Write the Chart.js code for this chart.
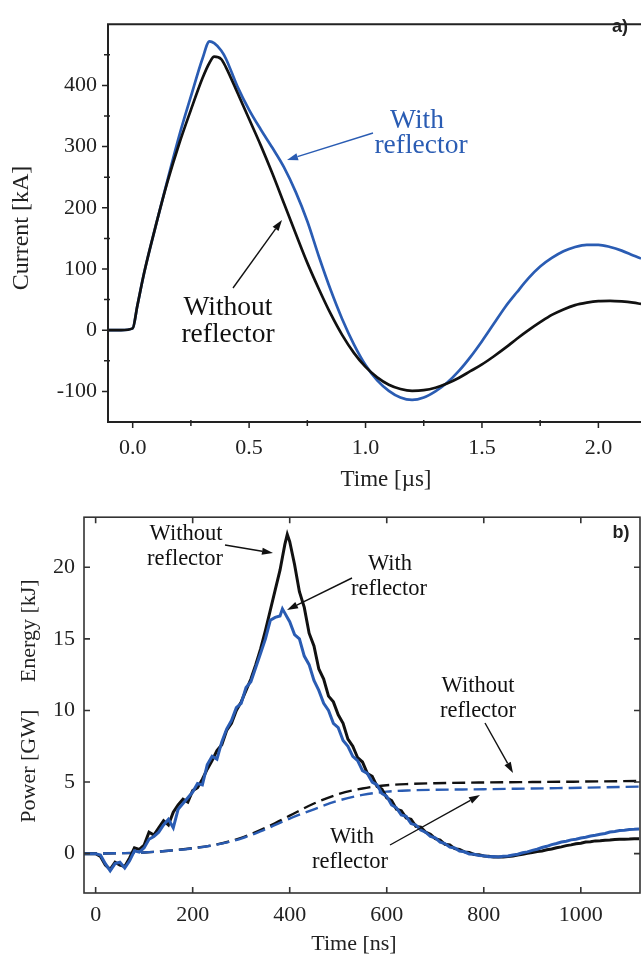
<!DOCTYPE html>
<html><head><meta charset="utf-8">
<script src="https://cdn.jsdelivr.net/npm/chart.js@4.4.1/dist/chart.umd.min.js"></script>
<style>
html,body{margin:0;padding:0;background:#fff;overflow:hidden;}
#wrap{position:relative;width:641px;height:959px;}
canvas{position:absolute;left:0;display:block;}
#ca{top:0}
#cb{top:495px}
</style></head><body>
<div id="wrap"><canvas id="ca" width="641" height="495"></canvas><canvas id="cb" width="641" height="464"></canvas></div>
<script>
// ---------- Panel a) data ----------
const currentTime = [-0.106,-0.05,0,0.02,0.05,0.1,0.15,0.2,0.25,0.3,0.33,0.35,0.38,0.4,0.45,0.5,0.55,0.6,0.65,0.7,0.75,0.8,0.85,0.9,0.95,1.0,1.05,1.1,1.15,1.2,1.25,1.3,1.35,1.4,1.45,1.5,1.55,1.6,1.65,1.7,1.75,1.8,1.85,1.9,1.95,2.0,2.05,2.1,2.15,2.183];
const currentWithout = [0,0,3,40,95,172,243,305,360,412,437,447,443,430,388,345,302,256,207,158,110,67,27,-8,-37,-60,-77,-89,-96,-99,-98,-94,-87,-78,-67,-56,-43,-29,-14,0,13,25,34,41,45,47.5,48,47,45,43];
const currentWith = [0,0,3,40,95,172,246,318,382,444,472,469,457,444,398,360,328,298,266,226,178,120,66,18,-23,-57,-82,-99,-110,-114,-110,-100,-86,-67,-44,-18,10,38,62,85,104,118,129,136,139.5,139.5,136,130,122,117];
const currentTicksX = [0, 0.5, 1.0, 1.5, 2.0];
const currentMinorX = [0.25, 0.75, 1.25, 1.75];
const currentTicksY = [-100, 0, 100, 200, 300, 400];
const currentMinorY = [-50, 50, 150, 250, 350, 450];

// ---------- Panel b) data ----------
const powerTime = [-24,0,10,20,30,40,50,60,70,80,90,100,110,120,130,140,150,160,170,180,190,200,210,220,230,240,250,260,270,280,290,300,310,320,330,340,350,360,370,380,385,390,395,400,410,420,430,440,450,460,470,480,490,500,510,520,530,540,550,560,570,580,590,600,610,620,630,640,650,660,670,680,690,700,710,720,730,740,750,760,770,780,790,800,810,820,830,840,850,860,870,880,890,900,910,920,930,940,950,960,970,980,990,1000,1010,1020,1030,1040,1050,1060,1070,1080,1090,1100,1110,1120];
const powerWithout = [0,0,
 -0.2,-0.8,-1.1,-0.6,-0.8,-0.9,-0.3,0.4,0.3,0.6,
 1.5,1.3,1.8,2.3,2.0,2.9,3.4,3.8,3.6,4.4,
 4.6,5.2,5.9,6.5,7.2,7.6,8.6,9.1,10.0,10.6,
 11.4,12.2,13.2,14.3,15.6,17.0,18.4,19.8,
 20.7,21.6,22.3,
 21.8,20.2,18.3,17.2,15.4,14.5,12.9,12.2,11.0,10.6,
 9.7,9.1,8.0,7.5,6.7,6.4,5.6,5.4,4.7,4.5,
 3.9,3.7,3.1,3.0,2.5,2.4,1.9,1.85,1.5,1.35,
 1.05,0.95,0.65,0.6,0.35,0.3,0.12,0.08,-0.06,-0.08,
 -0.17,-0.19,-0.23,-0.23,-0.24,-0.2,-0.16,-0.09,-0.05,0.03,
 0.07,0.15,0.19,0.27,0.32,0.41,0.47,0.56,0.61,0.69,
 0.73,0.81,0.83,0.89,0.9,0.94,0.95,0.99,1.0,1.01,
 1.02,1.04,1.04];
const powerWith = [0,0,
 -0.1,-0.7,-1.2,-0.7,-0.6,-1.0,-0.5,0.2,0.1,0.4,
 1.0,1.2,1.5,2.0,2.4,1.8,3.1,3.5,3.9,4.3,
 4.9,4.8,6.2,6.8,6.6,7.8,8.7,9.3,10.2,10.5,
 11.6,12.0,13.0,14.0,15.0,16.3,16.5,16.6,
 17.1,16.8,16.5,
 16.2,15.3,15.0,13.8,13.2,12.1,11.4,10.5,10.0,9.1,
 8.8,7.9,7.5,6.8,6.5,5.8,5.6,5.0,4.8,4.2,
 4.0,3.4,3.2,2.7,2.6,2.1,2.0,1.65,1.5,1.2,
 1.1,0.8,0.7,0.45,0.4,0.18,0.13,-0.02,-0.04,-0.13,
 -0.15,-0.21,-0.2,-0.23,-0.19,-0.17,-0.09,-0.04,0.06,0.12,
 0.23,0.31,0.43,0.51,0.63,0.71,0.81,0.87,0.96,1.01,
 1.09,1.14,1.23,1.29,1.36,1.41,1.51,1.54,1.61,1.63,
 1.69,1.7,1.72];
const energyTime = [-24,0,50,100,150,200,250,300,350,400,450,500,550,600,650,700,800,900,1000,1122];
const energyWithout = [0,0,0.03,0.08,0.2,0.38,0.65,1.1,1.8,2.65,3.5,4.15,4.55,4.78,4.87,4.92,4.97,5.0,5.03,5.08];
const energyWith = [0,0,0.03,0.08,0.2,0.37,0.63,1.05,1.7,2.45,3.1,3.7,4.1,4.33,4.42,4.46,4.5,4.55,4.6,4.68];
const powerTicksX = [0, 200, 400, 600, 800, 1000];
const powerTicksY = [0, 5, 10, 15, 20];

// ---------- styling ----------
const SERIF = "'Liberation Serif','Times New Roman',serif";
const BLUE = '#2a5cb3';
const BLACK = '#111111';
Chart.defaults.font.family = SERIF;
Chart.defaults.color = '#222';

function xy(xs, ys){ return xs.map((x,i)=>({x:x, y:ys[i]})); }

function drawArrow(ctx, x1, y1, x2, y2, color){
  ctx.save();
  ctx.strokeStyle = color; ctx.fillStyle = color; ctx.lineWidth = 1.4;
  const a = Math.atan2(y2-y1, x2-x1), L = 11, W = 3.6;
  const bx = x2 - L*Math.cos(a), by = y2 - L*Math.sin(a);
  ctx.beginPath(); ctx.moveTo(x1,y1); ctx.lineTo(bx,by); ctx.stroke();
  ctx.beginPath(); ctx.moveTo(x2,y2);
  ctx.lineTo(bx + W*Math.sin(a), by - W*Math.cos(a));
  ctx.lineTo(bx - W*Math.sin(a), by + W*Math.cos(a));
  ctx.closePath(); ctx.fill();
  ctx.restore();
}
function label(ctx, lines, cx, baselines, size, color){
  ctx.save();
  ctx.font = size + 'px ' + SERIF; ctx.fillStyle = color;
  ctx.textAlign = 'center'; ctx.textBaseline = 'alphabetic';
  lines.forEach((t,i)=>ctx.fillText(t, cx[i], baselines[i]));
  ctx.restore();
}

// ---------- Panel a) ----------
const frameA = {
  id: 'frameA',
  afterDraw(chart){
    const {ctx, chartArea: ca, scales: {x, y}} = chart;
    ctx.save();
    ctx.strokeStyle = '#222'; ctx.lineWidth = 2;
    ctx.beginPath();
    ctx.moveTo(ca.right+2, ca.top); ctx.lineTo(ca.left, ca.top); ctx.lineTo(ca.left, ca.bottom); ctx.lineTo(ca.right+2, ca.bottom);
    ctx.stroke();
    ctx.lineWidth = 1.5;
    ctx.beginPath();
    currentTicksY.forEach(v=>{const p=y.getPixelForValue(v); ctx.moveTo(ca.left-6,p); ctx.lineTo(ca.left,p);});
    currentMinorY.forEach(v=>{const p=y.getPixelForValue(v); ctx.moveTo(ca.left-4,p); ctx.lineTo(ca.left+2,p);});
    currentTicksX.forEach(v=>{const p=x.getPixelForValue(v); ctx.moveTo(p,ca.bottom); ctx.lineTo(p,ca.bottom+6);});
    currentMinorX.forEach(v=>{const p=x.getPixelForValue(v); ctx.moveTo(p,ca.bottom-2); ctx.lineTo(p,ca.bottom+4);});
    ctx.stroke();
    // axis titles
    ctx.fillStyle = '#222';
    ctx.font = '23px ' + SERIF; ctx.textAlign = 'center'; ctx.textBaseline = 'alphabetic';
    ctx.fillText('Time [\u00b5s]', 386, 486);
    ctx.save(); ctx.translate(28, 228); ctx.rotate(-Math.PI/2);
    ctx.font = '24px ' + SERIF; ctx.textBaseline = 'alphabetic';
    ctx.fillText('Current [kA]', 0, 0); ctx.restore();
    // panel tag
    ctx.font = 'bold 18px "Liberation Sans", Arial, sans-serif';
    ctx.textAlign = 'center'; ctx.textBaseline = 'middle';
    ctx.fillText('a)', 620, 27);
    ctx.restore();
    // annotations
    label(ctx, ['With','reflector'], [417, 421], [128, 153], 27.5, BLUE);
    drawArrow(ctx, 373, 133, 287, 160, BLUE);
    label(ctx, ['Without','reflector'], [228, 228], [315, 342], 27.5, BLACK);
    drawArrow(ctx, 233, 288, 282, 220, BLACK);
  }
};

new Chart(document.getElementById('ca'), {
  type: 'line',
  data: { datasets: [
    { label: 'Without reflector', data: xy(currentTime, currentWithout), borderColor: BLACK, borderWidth: 2.7, pointRadius: 0, cubicInterpolationMode: 'monotone', order: 0 },
    { label: 'With reflector', data: xy(currentTime, currentWith), borderColor: BLUE, borderWidth: 2.7, pointRadius: 0, cubicInterpolationMode: 'monotone', order: 1 }
  ]},
  options: {
    responsive: false, animation: false, devicePixelRatio: 1,
    layout: { padding: { top: 8, right: 0, left: 0, bottom: 0 } },
    plugins: { legend: { display: false }, tooltip: { enabled: false } },
    scales: {
      x: { type: 'linear', min: -0.106, max: 2.183,
           afterBuildTicks: s => { s.ticks = currentTicksX.map(v=>({value:v})); },
           afterFit: s => { s.height = 73; },
           ticks: { callback: v => Number(v).toFixed(1), padding: 13, font: { size: 22 }, maxRotation: 0, autoSkip: false, color: '#222' },
           grid: { display: false, drawTicks: false }, border: { display: false } },
      y: { type: 'linear', min: -150, max: 500,
           afterBuildTicks: s => { s.ticks = currentTicksY.map(v=>({value:v})); },
           afterFit: s => { s.width = 108; },
           ticks: { callback: v => String(v), padding: 11, font: { size: 22 }, color: '#222' },
           grid: { display: false, drawTicks: false }, border: { display: false } }
    }
  },
  plugins: [frameA]
});

// ---------- Panel b) ----------
const OFF = 495;
const frameB = {
  id: 'frameB',
  afterDraw(chart){
    const {ctx, chartArea: ca, scales: {x, y}} = chart;
    ctx.save();
    ctx.strokeStyle = '#333'; ctx.lineWidth = 1.6;
    ctx.strokeRect(ca.left, ca.top, ca.right-ca.left, ca.bottom-ca.top);
    ctx.beginPath();
    powerTicksX.forEach(v=>{const p=x.getPixelForValue(v);
      ctx.moveTo(p,ca.bottom); ctx.lineTo(p,ca.bottom-6);
      ctx.moveTo(p,ca.top); ctx.lineTo(p,ca.top+6);});
    powerTicksY.forEach(v=>{const p=y.getPixelForValue(v);
      ctx.moveTo(ca.left,p); ctx.lineTo(ca.left+6,p);
      ctx.moveTo(ca.right,p); ctx.lineTo(ca.right-6,p);});
    ctx.stroke();
    ctx.fillStyle = '#222';
    ctx.font = '22px ' + SERIF; ctx.textAlign = 'center'; ctx.textBaseline = 'alphabetic';
    ctx.fillText('Time [ns]', 354, 950 - OFF);
    ctx.save(); ctx.translate(35, 701 - OFF); ctx.rotate(-Math.PI/2);
    ctx.fillText('Power [GW]     Energy [kJ]', 0, 0); ctx.restore();
    ctx.font = 'bold 18px "Liberation Sans", Arial, sans-serif';
    ctx.textBaseline = 'middle';
    ctx.fillText('b)', 621, 533 - OFF);
    ctx.restore();
    label(ctx, ['Without','reflector'], [186, 185], [540-OFF, 565-OFF], 22.5, BLACK);
    drawArrow(ctx, 225, 545-OFF, 273, 553-OFF, BLACK);
    label(ctx, ['With','reflector'], [390, 389], [570-OFF, 595-OFF], 22.5, BLACK);
    drawArrow(ctx, 352, 578-OFF, 287, 610-OFF, BLACK);
    label(ctx, ['Without','reflector'], [478, 478], [692-OFF, 717-OFF], 22.5, BLACK);
    drawArrow(ctx, 485, 723-OFF, 513, 773-OFF, BLACK);
    label(ctx, ['With','reflector'], [352, 350], [843-OFF, 868-OFF], 22.5, BLACK);
    drawArrow(ctx, 390, 845-OFF, 480, 795-OFF, BLACK);
  }
};

new Chart(document.getElementById('cb'), {
  type: 'line',
  data: { datasets: [
    { label: 'Power, with reflector', data: xy(powerTime, powerWith), borderColor: BLUE, borderWidth: 3, pointRadius: 0, tension: 0, order: 0 },
    { label: 'Power, without reflector', data: xy(powerTime, powerWithout), borderColor: BLACK, borderWidth: 3, pointRadius: 0, tension: 0, order: 1 },
    { label: 'Energy, with reflector', data: xy(energyTime, energyWith), borderColor: BLUE, borderWidth: 2.4, borderDash: [13, 6], pointRadius: 0, cubicInterpolationMode: 'monotone', order: 2 },
    { label: 'Energy, without reflector', data: xy(energyTime, energyWithout), borderColor: BLACK, borderWidth: 2.4, borderDash: [13, 6], pointRadius: 0, cubicInterpolationMode: 'monotone', order: 3 }
  ]},
  options: {
    responsive: false, animation: false, devicePixelRatio: 1,
    layout: { padding: { top: 16, right: 1, left: 0, bottom: 0 } },
    plugins: { legend: { display: false }, tooltip: { enabled: false } },
    scales: {
      x: { type: 'linear', min: -24, max: 1122,
           afterBuildTicks: s => { s.ticks = powerTicksX.map(v=>({value:v})); },
           afterFit: s => { s.height = 66; },
           ticks: { callback: v => String(v), padding: 9, font: { size: 22 }, maxRotation: 0, autoSkip: false, color: '#222' },
           grid: { display: false, drawTicks: false }, border: { display: false } },
      y: { type: 'linear', min: -2.75, max: 23.5,
           afterBuildTicks: s => { s.ticks = powerTicksY.map(v=>({value:v})); },
           afterFit: s => { s.width = 84; },
           ticks: { callback: v => String(v), padding: 9, font: { size: 22 }, color: '#222' },
           grid: { display: false, drawTicks: false }, border: { display: false } }
    }
  },
  plugins: [frameB]
});
</script>
</body></html>
